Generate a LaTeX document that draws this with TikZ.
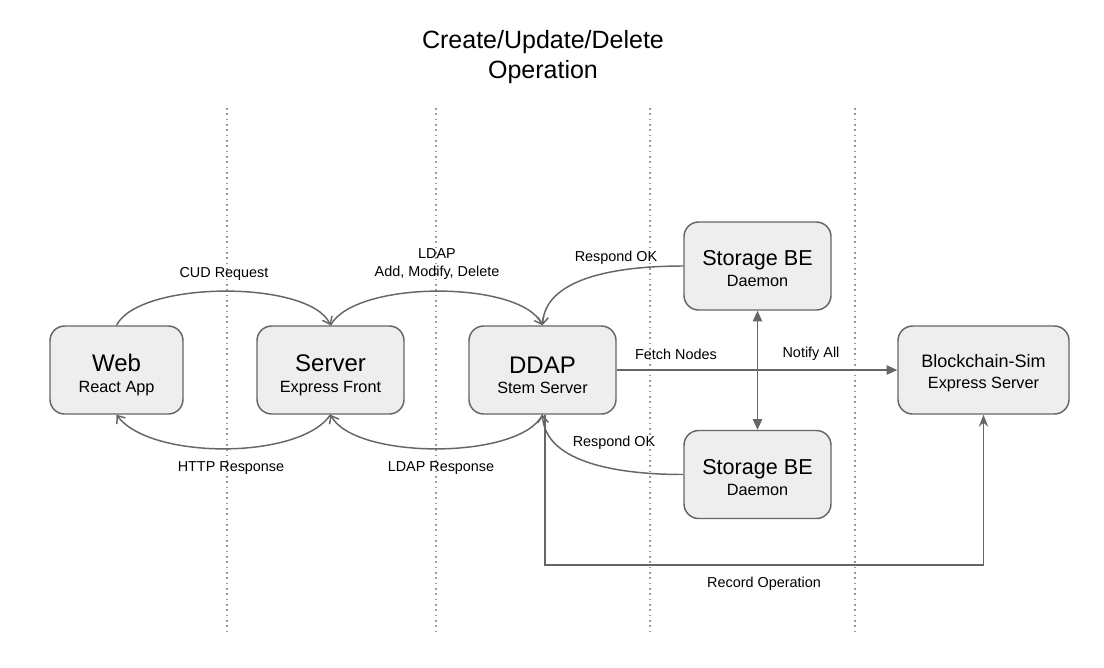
\documentclass[tikz,border=0pt]{standalone}
\usepackage{fontspec}
\setmainfont{Liberation Sans}
\usetikzlibrary{arrows.meta}
\definecolor{linegray}{HTML}{666666}
\definecolor{boxfill}{HTML}{EEEEEE}
\definecolor{dotgray}{HTML}{999999}
\tikzset{
  box/.style={draw=linegray, fill=boxfill, line width=1.1pt, rounded corners=11pt,
    align=center, inner sep=0pt, text=black},
  lbl/.style={font=\fontsize{10.8}{13}\selectfont, text=black, align=center, inner sep=1pt},
  conn/.style={draw=linegray, line width=1.1pt},
  openarr/.style={conn, -{Straight Barb[length=5pt,width=8pt,line width=1.1pt]}},
  blockarr/.style={conn, -{Triangle[length=8pt,width=7pt]}},
  dblarr/.style={conn, {Triangle[length=8pt,width=7pt]}-{Triangle[length=8pt,width=7pt]}},
  thinarr/.style={conn, -{Stealth[length=9pt,width=7pt,inset=3pt]}},
  lane/.style={draw=dotgray, line width=0.8pt, dash pattern=on 1.2pt off 2.8pt}
}
\newcommand{\bigt}[1]{\rule{0pt}{20.4pt}{\fontsize{18}{18}\selectfont #1}}
\newcommand{\midt}[1]{\rule{0pt}{15.4pt}{\fontsize{16.2}{16.2}\selectfont #1}}
\newcommand{\smt}[1]{\rule{0pt}{14.4pt}{\fontsize{13.5}{13.5}\selectfont #1}}
\newcommand{\subt}[1]{{\fontsize{12.2}{16}\selectfont #1}}
\begin{document}
\begin{tikzpicture}[x=0.75pt,y=-0.75pt]
\useasboundingbox (0,0) rectangle (1104,668);
% lanes
\foreach \lx/\ln in {227/a,436/b,650/c,855/d}{
  \coordinate (lt\ln) at (\lx,108);
  \coordinate (lb\ln) at (\lx,632);
  \draw[lane] (lt\ln) -- (lb\ln);
}
% title
\node[align=center, font=\fontsize{18.75}{22}\selectfont] (title) at (543,57)
  {Create/Update/Delete\\Operation};
% nodes
\node[box, minimum width=99.75pt, minimum height=66pt] (web) at (116.5,370)
  {\bigt{Web}\\[3.5pt]\subt{React App}};
\node[box, minimum width=110.25pt, minimum height=66pt] (server) at (330.5,370)
  {\bigt{Server}\\[3.5pt]\subt{Express Front}};
\node[box, minimum width=110.25pt, minimum height=66pt] (ddap) at (542.5,370)
  {\bigt{DDAP}\\[3.5pt]\subt{Stem Server}};
\node[box, minimum width=110.25pt, minimum height=66pt] (st1) at (757.5,266)
  {\midt{Storage BE}\\[4pt]\subt{Daemon}};
\node[box, minimum width=110.25pt, minimum height=66pt] (st2) at (757.5,474.5)
  {\midt{Storage BE}\\[4pt]\subt{Daemon}};
\node[box, minimum width=128.25pt, minimum height=66pt] (bc) at (983.5,370)
  {\smt{Blockchain-Sim}\\[4pt]\subt{Express Server}};
% curved connectors
\draw[openarr] (web.north) .. controls (140,280) and (310,280) .. (server.north);
\draw[openarr] (server.north) .. controls (355,280) and (520,280) .. (ddap.north);
\draw[openarr] (st1.west) .. controls (610,266) and (545,280) .. (ddap.north);
\draw[openarr] (server.south) .. controls (300,460) and (150,460) .. (web.south);
\draw[openarr] (ddap.south) .. controls (520,460) and (355,460) .. (server.south);
\draw[openarr] (st2.west) .. controls (610,474.5) and (545,460) .. (ddap.south);
% straight connectors
\draw[blockarr] (ddap.east) -- (bc.west);
\draw[dblarr] (st1.south) -- (st2.north);
\coordinate (rec) at (545,565);
\draw[thinarr] ([xshift=2pt]ddap.south) -- ([xshift=2pt]ddap.south |- rec) -| (bc.south);
% labels
\node[lbl] (l1) at (224,274) {CUD Request};
\node[lbl] (l2) at (437,264) {LDAP\\Add, Modify, Delete};
\node[lbl] (l3) at (616,258) {Respond OK};
\node[lbl] (l4) at (676,354) {Fetch Nodes};
\node[lbl] (l5) at (811,354) {Notify All};
\node[lbl] (l6) at (614,443) {Respond OK};
\node[lbl] (l7) at (231,468) {HTTP Response};
\node[lbl] (l8) at (441,468) {LDAP Response};
\node[lbl] (l9) at (764,584) {Record Operation};
\end{tikzpicture}
\end{document}
